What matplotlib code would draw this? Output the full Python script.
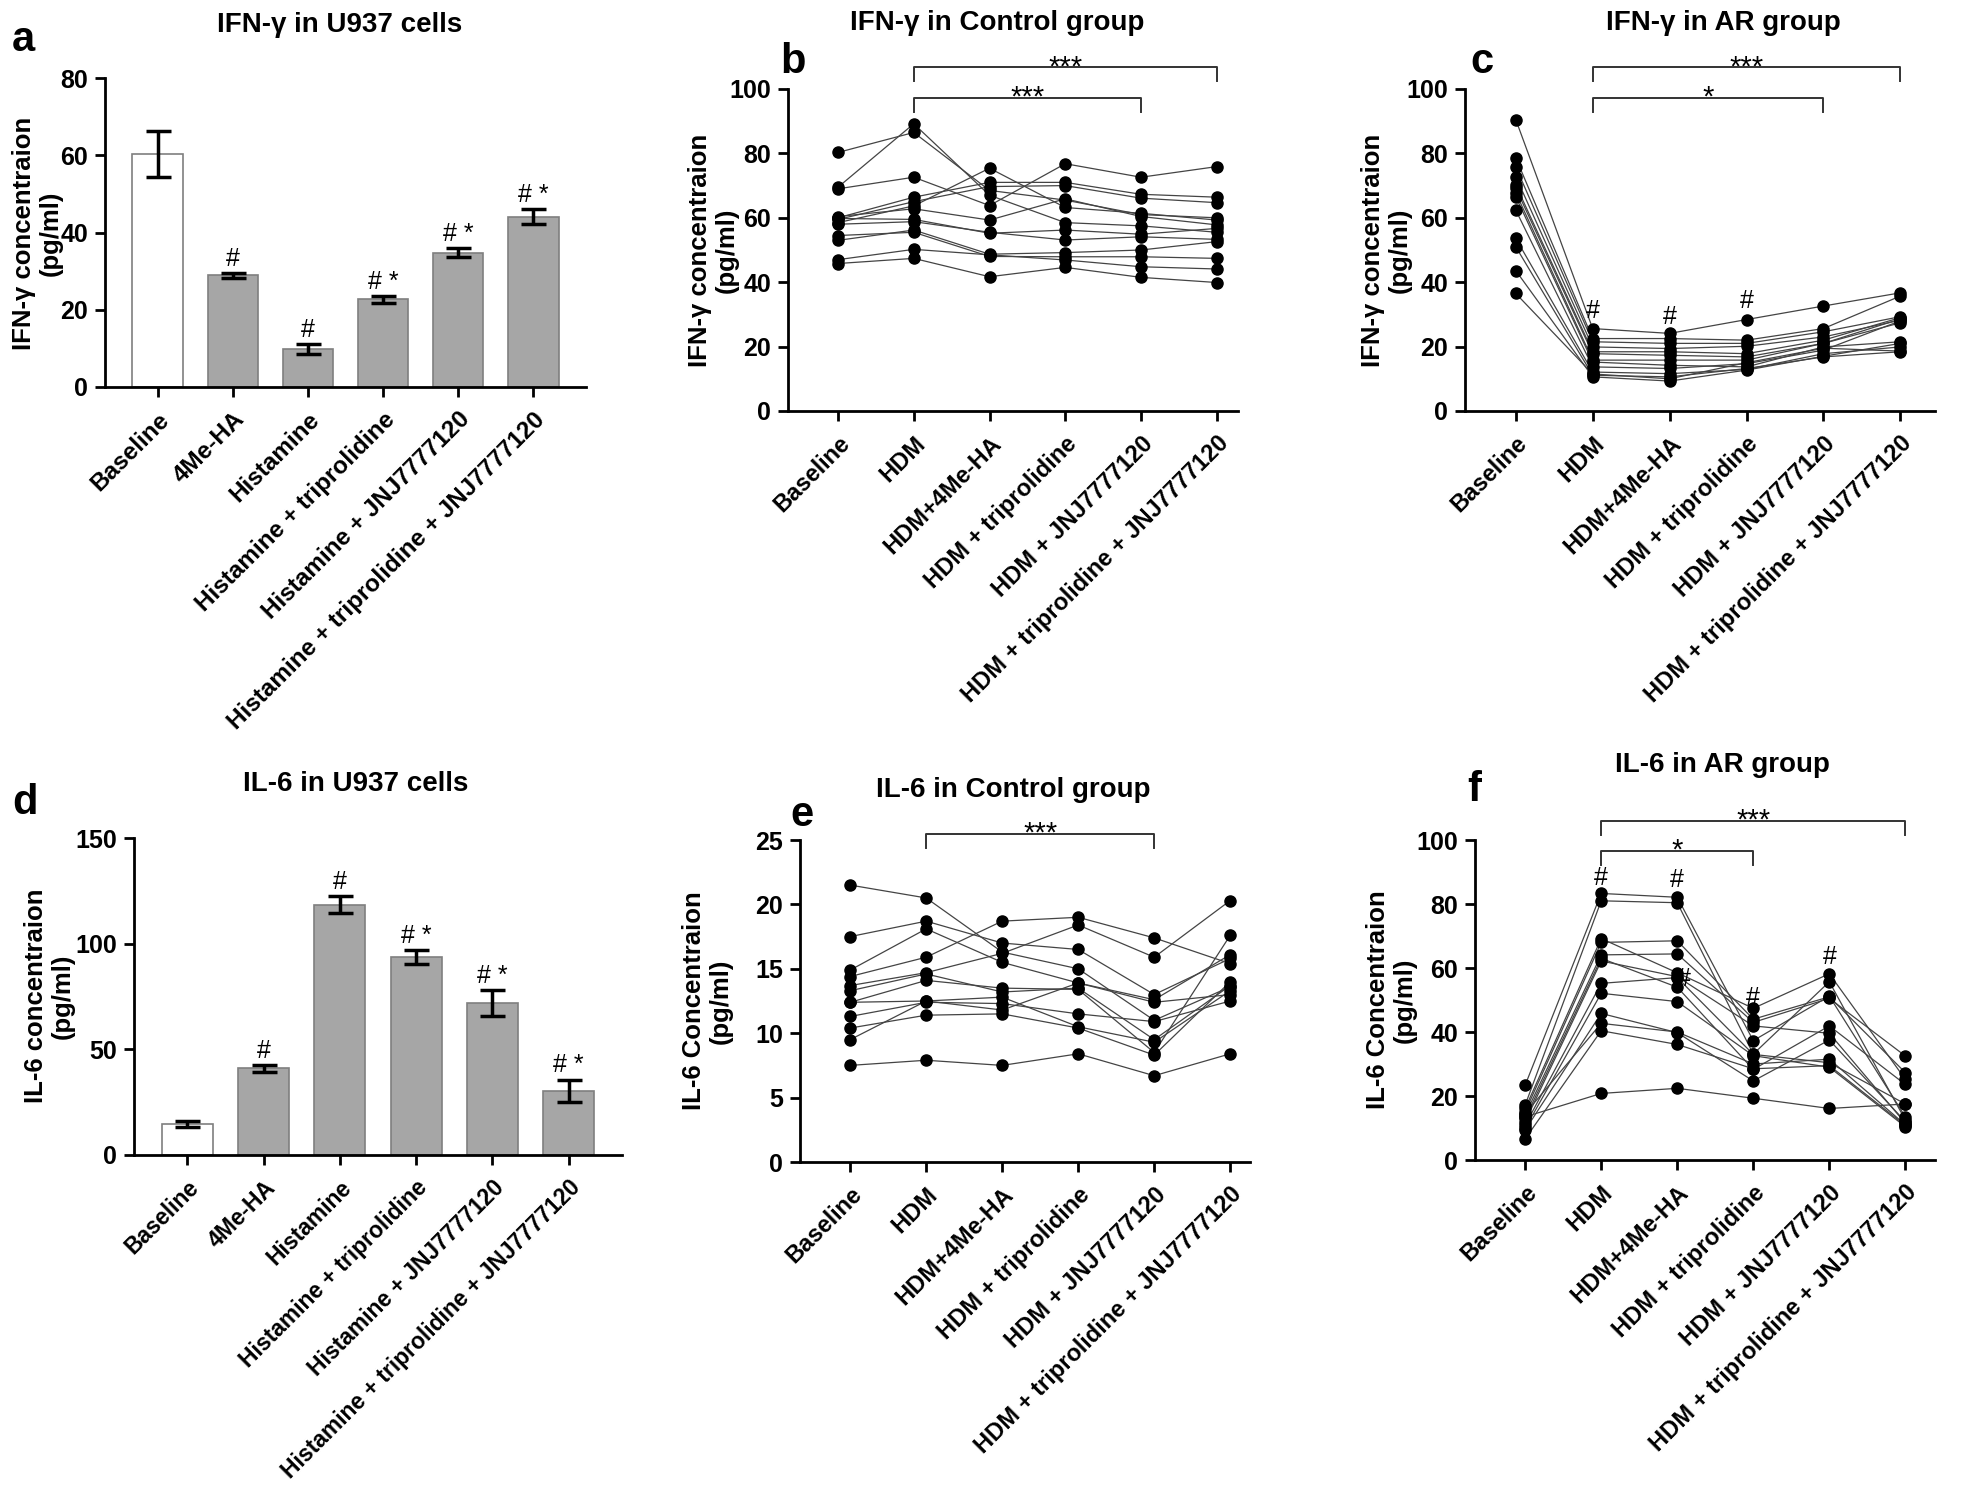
import matplotlib
matplotlib.use("Agg")
import matplotlib.pyplot as plt
import numpy as np

plt.rcParams['font.family'] = ['Liberation Sans', 'DejaVu Sans']
plt.rcParams['font.weight'] = 'bold'
NARROW = ['Liberation Sans Narrow', 'Liberation Sans', 'DejaVu Sans']
REGULAR = ['Liberation Sans', 'DejaVu Sans']

# ---- data: U937 cell bars (panels a, d) ----
cell_groups = ["Baseline", "4Me-HA", "Histamine", "Histamine + triprolidine",
               "Histamine + JNJ7777120", "Histamine + triprolidine + JNJ7777120"]
ifn_u937_mean = [60.4, 28.9, 9.8, 22.7, 34.8, 44.1]
ifn_u937_err = [6.0, 0.7, 1.3, 0.9, 1.2, 1.9]
il6_u937_mean = [14.6, 41.0, 118.5, 93.6, 72.0, 30.5]
il6_u937_err = [1.5, 1.6, 3.9, 3.2, 6.0, 5.2]
u937_marks = ["", "#", "#", "# *", "# *", "# *"]

# ---- data: patient cells (panels b, c, e, f), one row per subject ----
hdm_groups = ["Baseline", "HDM", "HDM+4Me-HA", "HDM + triprolidine",
              "HDM + JNJ7777120", "HDM + triprolidine + JNJ7777120"]

ifn_control = [
    [80.3, 86.5, 68.5, 65.5, 61.0, 60.0],
    [69.5, 89.2, 67.0, 58.5, 57.5, 55.5],
    [69.0, 72.6, 63.8, 76.8, 72.6, 75.9],
    [60.0, 66.4, 71.0, 71.0, 67.3, 66.4],
    [59.5, 65.0, 69.7, 70.0, 66.1, 64.7],
    [58.5, 63.7, 75.4, 63.2, 61.4, 59.3],
    [60.4, 62.8, 59.3, 65.9, 60.4, 57.8],
    [59.8, 59.5, 55.2, 56.2, 54.9, 56.7],
    [58.0, 58.8, 55.5, 53.1, 54.1, 53.3],
    [53.0, 56.2, 48.7, 49.2, 50.0, 52.6],
    [54.5, 55.5, 48.0, 47.9, 47.9, 47.4],
    [47.0, 50.2, 48.5, 46.9, 44.8, 44.1],
    [45.8, 47.4, 41.7, 44.6, 41.5, 39.9],
]

ifn_ar = [
    [90.5, 25.6, 24.1, 28.4, 32.6, 36.7],
    [78.6, 22.5, 22.5, 22.0, 25.6, 35.7],
    [75.8, 21.5, 21.0, 21.0, 24.6, 29.3],
    [72.8, 19.9, 19.4, 20.1, 23.0, 28.2],
    [70.2, 18.4, 18.4, 17.8, 22.0, 29.0],
    [69.2, 17.8, 17.3, 16.8, 21.0, 27.4],
    [67.8, 15.8, 15.8, 15.8, 21.0, 28.6],
    [66.6, 15.2, 14.2, 13.7, 19.9, 21.5],
    [62.4, 13.7, 13.2, 14.7, 18.9, 28.0],
    [53.6, 12.1, 11.6, 12.9, 17.8, 19.9],
    [51.0, 11.1, 10.6, 13.2, 16.8, 18.4],
    [43.6, 10.6, 9.3, 12.7, 17.0, 21.0],
    [36.5, 11.5, 10.0, 15.0, 19.5, 18.6],
]

il6_control = [
    [21.5, 20.5, 16.3, 15.0, 11.0, 13.6],
    [17.5, 18.7, 17.0, 16.5, 13.0, 15.8],
    [14.9, 18.1, 15.5, 13.9, 12.6, 16.1],
    [14.4, 15.9, 18.7, 19.0, 17.4, 15.4],
    [13.7, 14.7, 16.2, 18.4, 15.9, 20.3],
    [13.3, 14.6, 13.2, 13.5, 9.5, 13.7],
    [12.4, 14.1, 13.5, 13.4, 8.5, 17.6],
    [12.4, 12.5, 12.8, 10.5, 9.3, 13.3],
    [11.3, 12.4, 12.3, 11.5, 10.9, 12.5],
    [10.4, 11.4, 11.5, 10.4, 8.3, 14.0],
    [9.5, 12.5, 11.8, 13.9, 12.4, 13.0],
    [7.5, 7.9, 7.5, 8.4, 6.7, 8.4],
]

il6_ar = [
    [23.4, 83.3, 82.1, 37.3, 51.2, 13.5],
    [17.2, 81.0, 80.4, 33.1, 55.7, 12.5],
    [16.1, 69.2, 58.5, 47.4, 58.2, 25.2],
    [15.1, 68.0, 68.5, 44.0, 51.0, 27.3],
    [14.1, 64.1, 64.4, 43.0, 50.5, 32.5],
    [13.0, 63.0, 54.0, 28.3, 41.9, 23.6],
    [12.0, 62.2, 57.3, 41.9, 39.6, 11.5],
    [10.9, 55.2, 57.0, 33.0, 30.4, 17.5],
    [9.9, 52.1, 49.5, 32.6, 29.0, 10.4],
    [9.4, 45.8, 39.8, 24.7, 37.5, 12.0],
    [14.5, 42.7, 40.0, 30.0, 31.5, 11.0],
    [6.6, 40.4, 36.1, 28.5, 29.5, 10.8],
    [13.5, 20.8, 22.4, 19.3, 16.1, 17.5],
]

# '#' marks above columns: (column index, value of mark centre)
ifn_ar_hash = [(1, 31.0), (2, 29.3), (3, 34.3)]
il6_ar_hash = [(1, 88.0), (2, 87.5), (3, 50.5), (4, 63.5), (2.08, 56.5)]

W, H = 1961, 1496
fig = plt.figure(figsize=(W / 100, H / 100), dpi=100)


def px_axes(left, right, top, bottom):
    return fig.add_axes([left / W, 1 - bottom / H, (right - left) / W, (bottom - top) / H])


def style_axes(ax, ymax, step, labels, xsize, yfont):
    for s in ['top', 'right']:
        ax.spines[s].set_visible(False)
    for s in ['left', 'bottom']:
        ax.spines[s].set_linewidth(2.0)
    ax.set_ylim(0, ymax)
    ax.set_yticks(np.arange(0, ymax + 1, step))
    ax.set_xticks(np.arange(len(labels)))
    ax.set_xticklabels(labels, rotation=45, ha='right', rotation_mode='anchor',
                       fontsize=xsize, fontweight='bold', family=REGULAR)
    ax.tick_params(axis='both', length=7, width=2.0, direction='out', pad=5)
    ax.tick_params(axis='x', pad=8)
    for t in ax.get_yticklabels():
        t.set_fontsize(18)
        t.set_fontweight('bold')
        t.set_family(yfont)


def bar_panel(ax, means, errs, marks, ymax, step, xsize):
    x = np.arange(len(means))
    colors = ['white'] + ['#a6a6a6'] * (len(means) - 1)
    ax.bar(x, means, width=0.67, color=colors, edgecolor='#7f7f7f', linewidth=1.2, zorder=2)
    ax.errorbar(x, means, yerr=errs, fmt='none', ecolor='black', elinewidth=2.5,
                capsize=9, capthick=2.5, zorder=3)
    for xi, m, e, mk in zip(x, means, errs, marks):
        if mk:
            ax.text(xi, m + e + 0.045 * ymax, mk, ha='center', va='center',
                    fontsize=18, fontweight='normal', family=NARROW)
    ax.set_xlim(-0.7, 5.7)
    style_axes(ax, ymax, step, cell_groups, xsize, NARROW)


def line_panel(ax, subjects, ymax, step, xmax):
    x = np.arange(len(hdm_groups))
    for s in subjects:
        ax.plot(x, s, color='#444444', lw=0.9, zorder=2)
    for s in subjects:
        ax.plot(x, s, ls='none', marker='o', ms=8, mfc='black', mec='black', zorder=3)
    ax.set_xlim(-0.66, xmax)
    style_axes(ax, ymax, step, hdm_groups, 17, REGULAR)


def bracket(ax, x1, x2, y, drop, label):
    ax.plot([x1, x1, x2, x2], [y - drop, y, y, y - drop], color='#333333', lw=1.4,
            clip_on=False, zorder=4)
    ax.text((x1 + x2) / 2, y, label, ha='center', va='center', fontsize=21,
            fontweight='normal', clip_on=False)


# ---- panel a ----
ax_a = px_axes(105, 586, 78, 387)
bar_panel(ax_a, ifn_u937_mean, ifn_u937_err, u937_marks, 80, 20, 17.5)

# ---- panel d ----
ax_d = px_axes(134, 622, 838, 1155)
bar_panel(ax_d, il6_u937_mean, il6_u937_err, u937_marks, 150, 50, 16.5)

# ---- panel b ----
ax_b = px_axes(788, 1238, 89, 411)
line_panel(ax_b, ifn_control, 100, 20, 5.28)
bracket(ax_b, 1, 5, 106.8, 4.4, "***")
bracket(ax_b, 1, 4, 97.2, 4.2, "***")

# ---- panel c ----
ax_c = px_axes(1465, 1935, 89, 411)
line_panel(ax_c, ifn_ar, 100, 20, 5.45)
bracket(ax_c, 1, 5, 106.8, 4.4, "***")
bracket(ax_c, 1, 4, 97.2, 4.2, "*")
for xi, yv in ifn_ar_hash:
    ax_c.text(xi, yv, "#", ha='center', va='center', fontsize=18, fontweight='normal')

# ---- panel e ----
ax_e = px_axes(800, 1250, 840, 1162)
line_panel(ax_e, il6_control, 25, 5, 5.26)
bracket(ax_e, 1, 4, 25.5, 1.1, "***")

# ---- panel f ----
ax_f = px_axes(1475, 1935, 840, 1160)
line_panel(ax_f, il6_ar, 100, 20, 5.39)
bracket(ax_f, 1, 5, 106.0, 4.5, "***")
bracket(ax_f, 1, 3, 96.7, 4.5, "*")
for xi, yv in il6_ar_hash:
    ax_f.text(xi, yv, "#", ha='center', va='center', fontsize=18, fontweight='normal')

# ---- titles, panel letters, y labels (pixel positions) ----
def ftext(x, y, s, **kw):
    fig.text(x / W, 1 - y / H, s, **kw)

titles = [(340, 25, "IFN-\u03b3 in U937 cells"), (997, 23, "IFN-\u03b3 in Control group"),
          (1723, 23, "IFN-\u03b3 in AR group"), (356, 784, "IL-6 in U937 cells"),
          (1013, 790, "IL-6 in Control group"), (1722, 765, "IL-6 in AR group")]
for x, y, s in titles:
    ftext(x, y, s, ha='center', va='center', fontsize=20, fontweight='bold')

letters = [(12, 40, "a"), (780, 62, "b"), (1470, 62, "c"),
           (12, 803, "d"), (790, 815, "e"), (1467, 790, "f")]
for x, y, s in letters:
    ftext(x, y, s, ha='left', va='center', fontsize=30, fontweight='bold')

ylabels = [(37, 233, "IFN-\u03b3 concentraion\n(pg/ml)"), (713, 250, "IFN-\u03b3 concentraion\n(pg/ml)"),
           (1386, 250, "IFN-\u03b3 concentraion\n(pg/ml)"), (49, 996, "IL-6 concentraion\n(pg/ml)"),
           (707, 1001, "IL-6 Concentraion\n(pg/ml)"), (1391, 1000, "IL-6 Concentraion\n(pg/ml)")]
for x, y, s in ylabels:
    ftext(x, y, s, ha='center', va='center', rotation=90, fontsize=18.5,
          fontweight='bold', linespacing=1.15)

fig.savefig("out.png", dpi=100, facecolor='white')
